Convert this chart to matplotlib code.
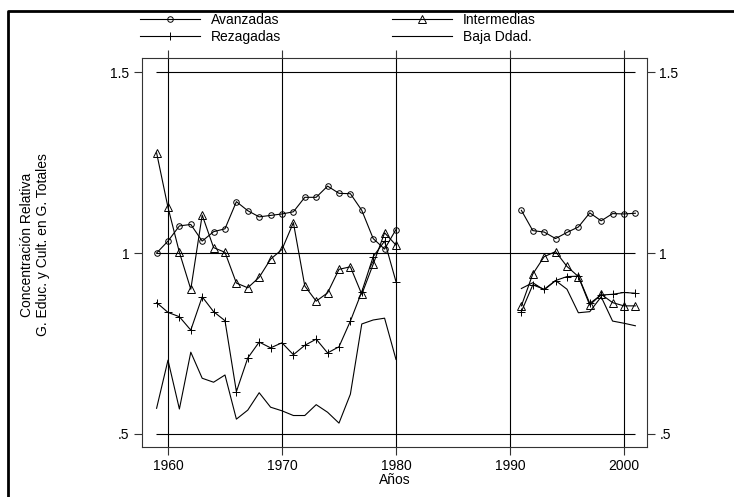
import matplotlib.pyplot as plt
from matplotlib.lines import Line2D

plt.rcParams['font.family'] = ['Liberation Sans', 'DejaVu Sans']
plt.rcParams['font.size'] = 10

# first period 1959-1980, second period 1991-2001
years_a = list(range(1959, 1981))
years_b = list(range(1991, 2002))

avanzadas_a = [1.000, 1.033, 1.075, 1.079, 1.033, 1.059, 1.067, 1.142, 1.117, 1.100, 1.104,
               1.108, 1.114, 1.154, 1.154, 1.185, 1.165, 1.164, 1.118, 1.040, 1.011, 1.065]
intermedias_a = [1.277, 1.126, 1.002, 0.900, 1.105, 1.015, 1.002, 0.917, 0.904, 0.933, 0.983,
                 1.010, 1.084, 0.909, 0.867, 0.890, 0.955, 0.962, 0.886, 0.969, 1.056, 1.022]
rezagadas_a = [0.863, 0.836, 0.824, 0.787, 0.879, 0.838, 0.813, 0.617, 0.710, 0.754, 0.738,
               0.752, 0.719, 0.745, 0.762, 0.724, 0.741, 0.812, 0.893, 0.990, 1.033, 0.921]
baja_a = [0.571, 0.704, 0.569, 0.726, 0.654, 0.643, 0.663, 0.541, 0.566, 0.614, 0.574,
          0.564, 0.551, 0.551, 0.581, 0.560, 0.530, 0.610, 0.804, 0.815, 0.820, 0.706]

avanzadas_b = [1.118, 1.062, 1.058, 1.040, 1.057, 1.072, 1.111, 1.089, 1.109, 1.108, 1.110]
intermedias_b = [0.854, 0.942, 0.990, 1.004, 0.963, 0.935, 0.856, 0.886, 0.863, 0.854, 0.854]
rezagadas_b = [0.838, 0.912, 0.900, 0.924, 0.935, 0.936, 0.861, 0.884, 0.886, 0.891, 0.889]
baja_b = [0.902, 0.918, 0.898, 0.924, 0.900, 0.835, 0.838, 0.879, 0.812, 0.806, 0.799]

x_ticks = [1960, 1970, 1980, 1990, 2000]
y_ticks = [0.5, 1.0, 1.5]
y_tick_labels = ['.5', '1', '1.5']

series = [
    ("Avanzadas", avanzadas_a, avanzadas_b, dict(marker='o', markersize=4)),
    ("Intermedias", intermedias_a, intermedias_b, dict(marker='^', markersize=6)),
    ("Rezagadas", rezagadas_a, rezagadas_b, dict(marker='+', markersize=5.5)),
    ("Baja Ddad.", baja_a, baja_b, dict(marker=None)),
]

fig = plt.figure(figsize=(7.34, 4.97), dpi=100)
ax = fig.add_axes([142 / 734, 1 - 447 / 497, 505 / 734, 389 / 497])

# reference lines
for yv in y_ticks:
    ax.hlines(yv, 1958.95, 2000.95, color='black', lw=0.8, zorder=1)
for xv in x_ticks:
    ax.axvline(xv, color='black', lw=0.8, zorder=1)

handles = {}
for name, ya, yb, style in series:
    kw = dict(color='black', lw=0.8, markerfacecolor='none', markeredgewidth=0.7, zorder=3)
    kw.update(style)
    handles[name], = ax.plot(years_a, ya, label=name, **kw)
    ax.plot(years_b, yb, **kw)

ax.set_xlim(1957.72, 2002.02)
ax.set_ylim(0.464, 1.539)
ax.set_xticks(x_ticks)
ax.set_yticks(y_ticks)
ax.set_yticklabels(y_tick_labels)
ax.tick_params(direction='out', length=6, width=0.8, color='#333333',
               top=True, right=True, labelright=True, labeltop=False, pad=3)
for s in ax.spines.values():
    s.set_linewidth(0.8)
    s.set_color('#333333')

ax.set_xlabel('Años', labelpad=0)
fig.text(35 / 734, 1 - 245 / 497, 'Concentración Relativa\nG. Educ. y Cult. en G. Totales',
         rotation=90, ha='center', va='center', multialignment='center')

# legend fills column by column: keep Avanzadas/Intermedias on the first row
order = ["Avanzadas", "Rezagadas", "Intermedias", "Baja Ddad."]
fig.legend([handles[n] for n in order], order, loc='upper left',
           bbox_to_anchor=(140 / 734, 1 - 13 / 497), ncol=2,
           frameon=False, handlelength=4.3, handletextpad=0.8, columnspacing=8.0,
           labelspacing=0.2, borderpad=0, borderaxespad=0)

# outer frame (top and left edges only)
fig.add_artist(Line2D([8 / 734, 8 / 734, 1.0], [0.0, 1 - 11 / 497, 1 - 11 / 497],
                      transform=fig.transFigure, color='black', lw=2))

plt.savefig('out.png', dpi=100)
